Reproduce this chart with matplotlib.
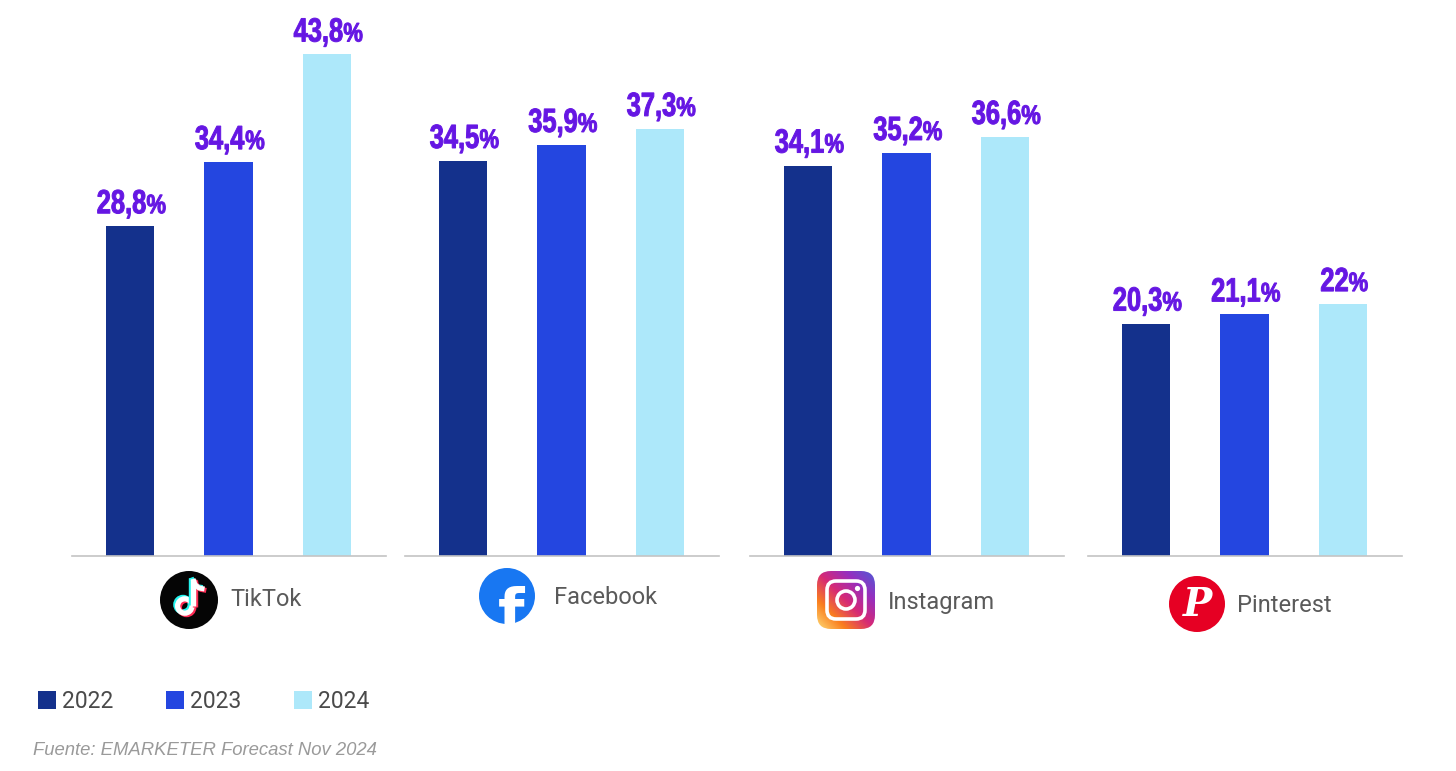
import numpy as np
import matplotlib
matplotlib.use('Agg')
import matplotlib.pyplot as plt
from matplotlib.patches import Circle, FancyBboxPatch, PathPatch, Patch
from matplotlib.textpath import TextPath
from matplotlib.font_manager import FontProperties
import matplotlib.transforms as mtransforms
from matplotlib.colors import LinearSegmentedColormap
from matplotlib.lines import Line2D

# ---------------- data ----------------
platforms = ['TikTok', 'Facebook', 'Instagram', 'Pinterest']
years = ['2022', '2023', '2024']
share_2022 = [28.8, 34.5, 34.1, 20.3]
share_2023 = [34.4, 35.9, 35.2, 21.1]
share_2024 = [43.8, 37.3, 36.6, 22.0]
source_note = 'Fuente: EMARKETER Forecast Nov 2024'

# ---------------- style ----------------
year_colors = ['#14318C', '#2446E0', '#ADE8FA']
label_color = '#6516E3'

W, H = 1456, 771
fig = plt.figure(figsize=(W / 100, H / 100), dpi=100)

px_per_unit = 11.45
base_y = 556
ymax = base_y / px_per_unit
panel_left = [72, 405, 750, 1088]
panel_w = 314

fp_lab = FontProperties(family='Liberation Sans', weight='bold')


def fmt(v):
    s = f'{v:.1f}'
    if s.endswith('.0'):
        s = s[:-2]
    return s.replace('.', ',')


def cond_label(ax, x, y, num):
    size = 33.5
    sx = 0.76
    sx2 = 0.82
    p1 = TextPath((0, 0), num, size=size, prop=fp_lab)
    p2 = TextPath((0, 0), '%', size=size * 0.8, prop=fp_lab)
    e1 = p1.get_extents()
    e2 = p2.get_extents()
    w1 = e1.x1 * sx
    w2 = (e2.x1 - e2.x0) * sx2
    gap = 1.5
    total = w1 + gap + w2
    lift = 13
    base = mtransforms.ScaledTranslation(x, y, ax.transData)
    t1 = mtransforms.Affine2D().scale(sx, 1).translate(-total / 2 + 1, lift) + base
    t2 = (mtransforms.Affine2D().translate(-e2.x0, 0).scale(sx2, 1)
          .translate(-total / 2 + 1 + w1 + gap, lift) + base)
    for p, t in ((p1, t1), (p2, t2)):
        pp = PathPatch(p, transform=t, facecolor=label_color,
                       edgecolor=label_color, lw=0.7, clip_on=False)
        ax.add_artist(pp)


series = [share_2022, share_2023, share_2024]
xpos = np.arange(len(years))
for i, name in enumerate(platforms):
    ax = fig.add_axes([panel_left[i] / W, 1 - base_y / H, panel_w / W, base_y / H])
    vals = [s[i] for s in series]
    ax.bar(xpos, vals, width=0.49, color=year_colors, zorder=2)
    for x, v in zip(xpos, vals):
        cond_label(ax, x, v, fmt(v))
    ax.set_xlim(-0.59, 2.6)
    ax.set_ylim(0, ymax)
    for s in ['top', 'right', 'left']:
        ax.spines[s].set_visible(False)
    ax.spines['bottom'].set_color('#c4c4c4')
    ax.spines['bottom'].set_linewidth(1.2)
    ax.set_xticks([])
    ax.set_yticks([])
    ax.patch.set_alpha(0)

# ---------------- overlay for logos and platform names ----------------
ov = fig.add_axes([0, 0, 1, 1])
ov.set_xlim(0, W)
ov.set_ylim(H, 0)
ov.axis('off')
ov.patch.set_alpha(0)

pt = 0.72  # px -> pt

# platform names
name_pos = [(230, 600), (554, 598), (888, 602), (1237, 606)]
for name, (x, y) in zip(platforms, name_pos):
    ov.text(x, y, name, ha='left', va='center', color='#5a5a5a',
            fontsize=17, family=['Roboto', 'DejaVu Sans'], fontweight='normal')

# TikTok logo
cx, cy = 189, 600
ov.add_patch(Circle((cx, cy), 29, facecolor='#050505', edgecolor='none'))
for dx, dy, col in [(-1.8, -1.4, '#25F4EE'), (1.8, 1.4, '#FE2C55'), (0, 0, 'white')]:
    ox, oy = cx + dx, cy + dy
    ov.add_line(Line2D([ox + 4, ox + 4], [oy - 21, oy + 6], color=col, lw=5.4 * pt,
                       solid_capstyle='butt'))
    ov.add_patch(Circle((ox - 4.2, oy + 6), 7.2, facecolor='none', edgecolor=col,
                        lw=5.2 * pt))
    fx = np.array([4, 6, 10, 15.5])
    fy = np.array([-21, -15.5, -12, -11])
    ov.add_line(Line2D(ox + fx, oy + fy, color=col, lw=5.0 * pt,
                       solid_capstyle='butt'))

# Facebook logo
cx, cy = 507, 596
fb = Circle((cx, cy), 28, facecolor='#1877F2', edgecolor='none')
ov.add_patch(fb)
ftxt = ov.text(cx + 4, cy + 36, 'f', ha='center', va='baseline', color='white',
               fontsize=44, fontweight='bold', family='DejaVu Sans')
ftxt.set_clip_path(fb)

# Instagram logo
x0, y0, sz, rad = 817, 571, 58, 14
ig_box = FancyBboxPatch((x0 + rad, y0 + rad), sz - 2 * rad, sz - 2 * rad,
                        boxstyle=f'round,pad={rad}', facecolor='none', edgecolor='none')
ov.add_patch(ig_box)
gx, gy = np.meshgrid(np.linspace(0, 1, 120), np.linspace(0, 1, 120))
grad_cmap = LinearSegmentedColormap.from_list(
    'ig', ['#4F5BD5', '#962FBF', '#D62976', '#FA7E1E', '#FEDA75'])
img = ov.imshow(1 - (gx + (1 - gy)) / 2, cmap=grad_cmap, extent=(x0, x0 + sz, y0 + sz, y0),
                origin='upper', aspect='auto', interpolation='bilinear')
img.set_clip_path(ig_box)
ov.set_xlim(0, W)
ov.set_ylim(H, 0)
ir = 9
ov.add_patch(FancyBboxPatch((x0 + 10 + ir, y0 + 10 + ir), sz - 20 - 2 * ir, sz - 20 - 2 * ir,
                            boxstyle=f'round,pad={ir}', facecolor='none', edgecolor='white',
                            lw=3.6 * pt))
ov.add_patch(Circle((x0 + sz / 2, y0 + sz / 2), 9, facecolor='none', edgecolor='white',
                    lw=3.6 * pt))
ov.add_patch(Circle((x0 + sz / 2 + 11.5, y0 + sz / 2 - 11.5), 2.6, facecolor='white',
                    edgecolor='none'))

# Pinterest logo
cx, cy = 1197, 604
pin = Circle((cx, cy), 28, facecolor='#E60023', edgecolor='none')
ov.add_patch(pin)
ptxt = ov.text(cx + 1, cy + 1, 'P', ha='center', va='center', color='white',
               fontsize=28, fontweight='bold', family='DejaVu Serif', style='italic')
ptxt.set_clip_path(pin)

# ---------------- legend ----------------
handles = [Patch(facecolor=c, edgecolor='none', label=y) for c, y in zip(year_colors, years)]
leg = fig.legend(handles=handles, loc='upper left', bbox_to_anchor=(38 / W, 1 - 690 / H),
                 ncol=3, frameon=False, handlelength=0.8, handleheight=0.8,
                 handletextpad=0.25, columnspacing=2.3, borderpad=0, borderaxespad=0,
                 prop={'family': ['Roboto', 'DejaVu Sans'], 'weight': 'normal', 'size': 16.5})
for txt in leg.get_texts():
    txt.set_color('#4a4a4a')

fig.text(33 / W, 1 - 755 / H, source_note, ha='left', va='baseline', color='#9a9a9a',
         fontsize=13.3, style='italic', family='Liberation Sans')

fig.savefig('out.png', dpi=100, facecolor='white')
